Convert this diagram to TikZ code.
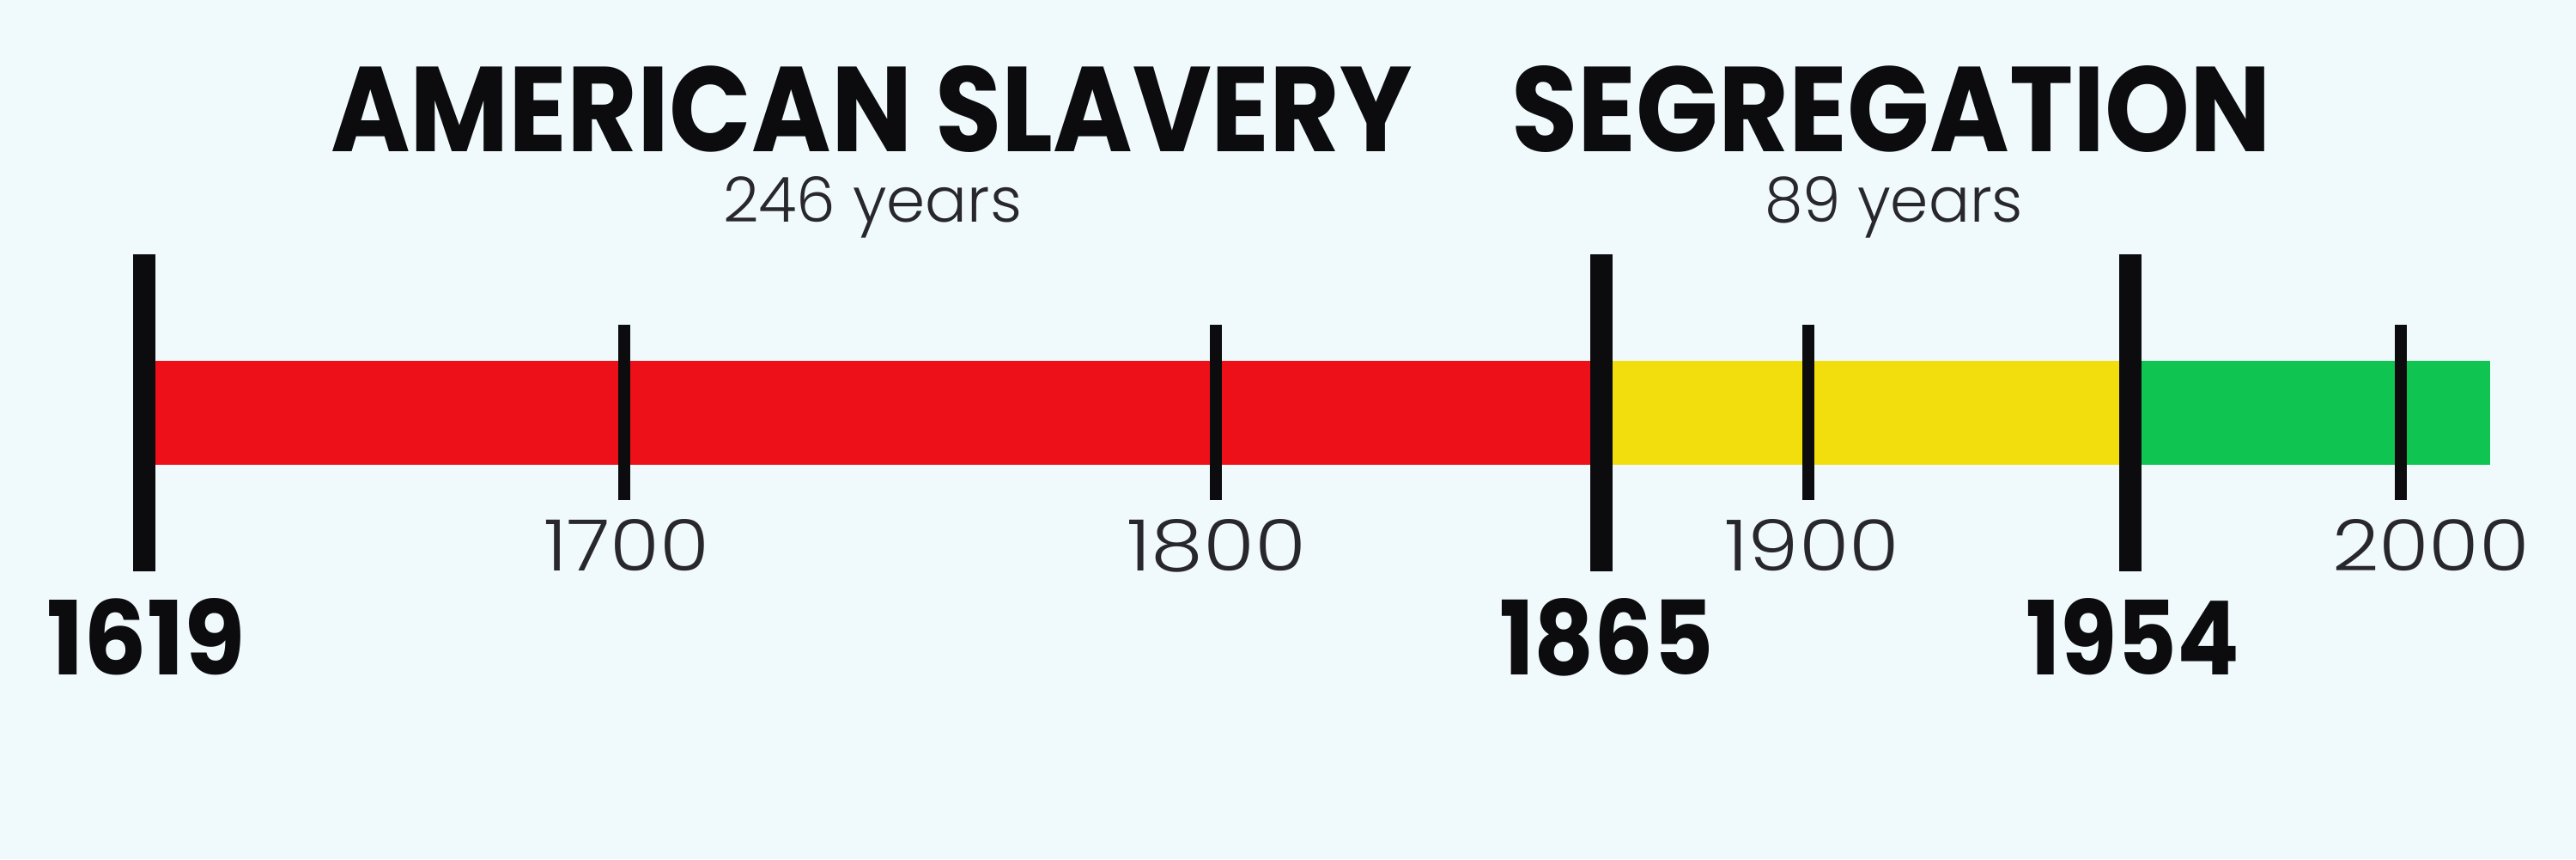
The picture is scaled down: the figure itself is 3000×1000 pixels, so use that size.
\documentclass[tikz,border=0pt]{standalone}
\usepackage{fontspec}
\usepackage{graphicx}
\setmainfont{Poppins}
\newfontfamily\lightfont{Poppins Light}
\definecolor{bgc}{RGB}{240,250,252}
\definecolor{redbar}{RGB}{237,16,24}
\definecolor{yellowbar}{RGB}{242,222,12}
\definecolor{greenbar}{RGB}{16,196,82}
\definecolor{ink}{RGB}{12,12,14}
\definecolor{thinink}{RGB}{40,40,44}
\tikzset{
  lbl/.style={anchor=base west, inner sep=0pt, outer sep=0pt, text=ink},
  thinlbl/.style={anchor=base west, inner sep=0pt, outer sep=0pt, text=thinink},
  bigtick/.style={fill=ink},
  smalltick/.style={fill=ink}
}
\begin{document}
\begin{tikzpicture}[x=0.1mm,y=-0.1mm]
\fill[bgc] (0,0) rectangle (3000,1000);
\useasboundingbox (0,0) rectangle (3000,1000);
% colour bar
\fill[redbar] (168,420) rectangle (1865,541);
\fill[yellowbar] (1865,420) rectangle (2481,541);
\fill[greenbar] (2481,420) rectangle (2900,541);
% big ticks
\fill[bigtick] (155,296) rectangle (181,665);
\fill[bigtick] (1852,296) rectangle (1878,665);
\fill[bigtick] (2468,296) rectangle (2494,665);
% small ticks
\fill[smalltick] (720,378) rectangle (734,582);
\fill[smalltick] (1409,378) rectangle (1423,582);
\fill[smalltick] (2099,378) rectangle (2113,582);
\fill[smalltick] (2789,378) rectangle (2803,582);
% titles
\node[lbl] (t1) at (385,176) {\resizebox{126mm}{10mm}{\bfseries AMERICAN SLAVERY}};
\node[lbl] (t2) at (1760,176) {\resizebox{88.5mm}{10mm}{\bfseries SEGREGATION}};
\node[thinlbl] (d1) at (842,258) {\resizebox{34.8mm}{5.3mm}{\lightfont 246 years}};
\node[thinlbl] (d2) at (2055,258) {\resizebox{30.1mm}{5.3mm}{\lightfont 89 years}};
% big year labels
\node[lbl] (y1619) at (54,785) {\resizebox{23.2mm}{8.9mm}{\bfseries 1619}};
\node[lbl] (y1865) at (1746,785) {\resizebox{25mm}{8.9mm}{\bfseries 1865}};
\node[lbl] (y1954) at (2359,785) {\resizebox{24.9mm}{8.9mm}{\bfseries 1954}};
% century labels
\node[thinlbl] (c1700) at (633,664) {\resizebox{19.3mm}{6mm}{\lightfont 1700}};
\node[thinlbl] (c1800) at (1312,664) {\resizebox{20.9mm}{6mm}{\lightfont 1800}};
\node[thinlbl] (c1900) at (2008,664) {\resizebox{20.4mm}{6mm}{\lightfont 1900}};
\node[thinlbl] (c2000) at (2716,664) {\resizebox{23mm}{6mm}{\lightfont 2000}};
\end{tikzpicture}
\end{document}
